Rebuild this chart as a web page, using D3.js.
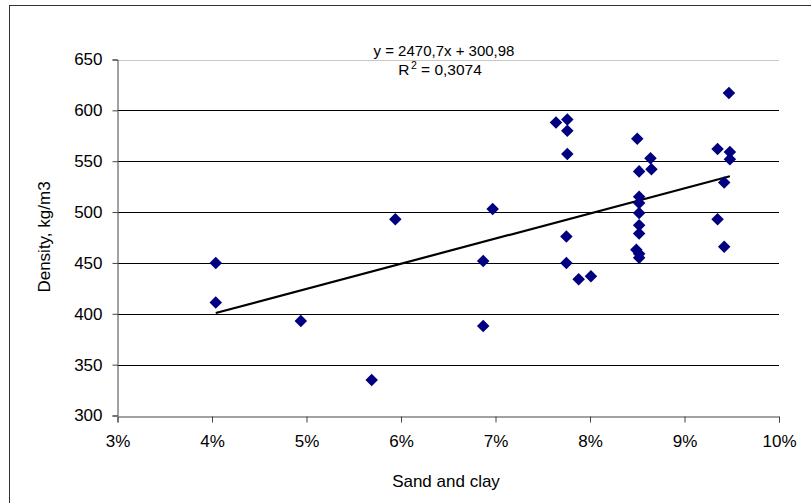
<!DOCTYPE html>
<html>
<head>
<meta charset="utf-8">
<script src="https://cdn.jsdelivr.net/npm/d3@7"></script>
<style>
  html, body { margin: 0; padding: 0; background: #fff; }
  svg { display: block; font-family: "Liberation Sans", Arial, sans-serif; }
</style>
</head>
<body>
<svg id="chart" width="811" height="503"></svg>
<script>
// Sand and clay content (fraction) vs. density (kg/m3)
const sandClay = [
  0.0404, 0.0404, 0.0494, 0.0569, 0.0594, 0.0687, 0.0687, 0.0697,
  0.0764, 0.0776, 0.0776, 0.0776, 0.0775, 0.0775, 0.0788, 0.0801,
  0.0850, 0.0852, 0.0864, 0.0865, 0.0852, 0.0852, 0.0852, 0.0852,
  0.0852, 0.0849, 0.0852, 0.0852, 0.0935, 0.0948, 0.0948, 0.0942,
  0.0935, 0.0942, 0.0947
];
const density = [
  450, 411, 393, 335, 493, 452, 388, 503,
  588, 591, 580, 557, 476, 450, 434, 437,
  572, 540, 553, 542, 515, 509, 499, 487,
  479, 463, 459, 455, 562, 559, 552, 529,
  493, 466, 617
];
const xTicks = [0.03, 0.04, 0.05, 0.06, 0.07, 0.08, 0.09, 0.10];
const yTicks = [300, 350, 400, 450, 500, 550, 600, 650];
const trendSlope = 2470.7;
const trendIntercept = 300.98;
const rSquared = "0,3074";

const svg = d3.select("#chart");

// outer chart frame
svg.append("rect")
  .attr("x", 9.5).attr("y", 5.5)
  .attr("width", 820).attr("height", 520)
  .attr("fill", "none").attr("stroke", "#333").attr("stroke-width", 1);

const x = d3.scaleLinear().domain([0.03, 0.10]).range([117.5, 779]);
const y = d3.scaleLinear().domain([300, 650]).range([415.5, 59.5]);

// horizontal gridlines
svg.append("g").selectAll("line")
  .data(yTicks.filter(v => v > 300))
  .join("line")
  .attr("x1", x(0.03)).attr("x2", x(0.10))
  .attr("y1", d => Math.round(y(d)) + 0.5).attr("y2", d => Math.round(y(d)) + 0.5)
  .attr("stroke", d => d === 650 ? "#c8c8c8" : "#000")
  .attr("stroke-width", 1);

// y axis
const yAxis = svg.append("g")
  .attr("transform", `translate(${x(0.03)},0)`)
  .call(d3.axisLeft(y).tickValues(yTicks).tickSize(5).tickPadding(10).tickFormat(d3.format("d")));
yAxis.select(".domain").attr("stroke", "#444");
yAxis.selectAll(".tick line").attr("stroke", "#444");
yAxis.selectAll("text").attr("font-size", 17).attr("fill", "#000");

// x axis
const xAxis = svg.append("g")
  .attr("transform", `translate(0,${Math.round(y(300)) + 0.5})`)
  .call(d3.axisBottom(x).tickValues(xTicks).tickSize(6).tickPadding(12).tickFormat(d3.format(".0%")));
xAxis.select(".domain").attr("stroke", "#444");
xAxis.selectAll(".tick line").attr("stroke", "#444");
xAxis.selectAll("text").attr("font-size", 17).attr("fill", "#000");

// axis titles
svg.append("text")
  .attr("x", 446).attr("y", 487)
  .attr("text-anchor", "middle").attr("font-size", 17)
  .text("Sand and clay");
svg.append("text")
  .attr("transform", "translate(50,237) rotate(-90)")
  .attr("text-anchor", "middle").attr("font-size", 17)
  .text("Density, kg/m3");

// linear trend line over the data range
const xMin = d3.min(sandClay), xMax = d3.max(sandClay);
svg.append("line")
  .attr("x1", x(xMin)).attr("y1", y(trendSlope * xMin + trendIntercept))
  .attr("x2", x(xMax)).attr("y2", y(trendSlope * xMax + trendIntercept))
  .attr("stroke", "#000").attr("stroke-width", 2.2);

// data markers (diamonds)
const diamond = d3.symbol().type(d3.symbolDiamond2).size(100);
svg.append("g").selectAll("path")
  .data(d3.zip(sandClay, density))
  .join("path")
  .attr("transform", d => `translate(${x(d[0])},${y(d[1])})`)
  .attr("d", diamond)
  .attr("fill", "#000080");

// equation label
svg.append("text")
  .attr("x", 444).attr("y", 56)
  .attr("text-anchor", "middle").attr("font-size", 15)
  .text(`y = ${String(trendSlope).replace(".", ",")}x + ${String(trendIntercept).replace(".", ",")}`);
const r2 = svg.append("text")
  .attr("x", 440).attr("y", 75)
  .attr("text-anchor", "middle").attr("font-size", 15.5);
r2.append("tspan").text("R");
r2.append("tspan").attr("font-size", 10.5).attr("dx", 1.5).attr("dy", -6).text("2");
r2.append("tspan").attr("dy", 6).text(` = ${rSquared}`);
</script>
</body>
</html>
